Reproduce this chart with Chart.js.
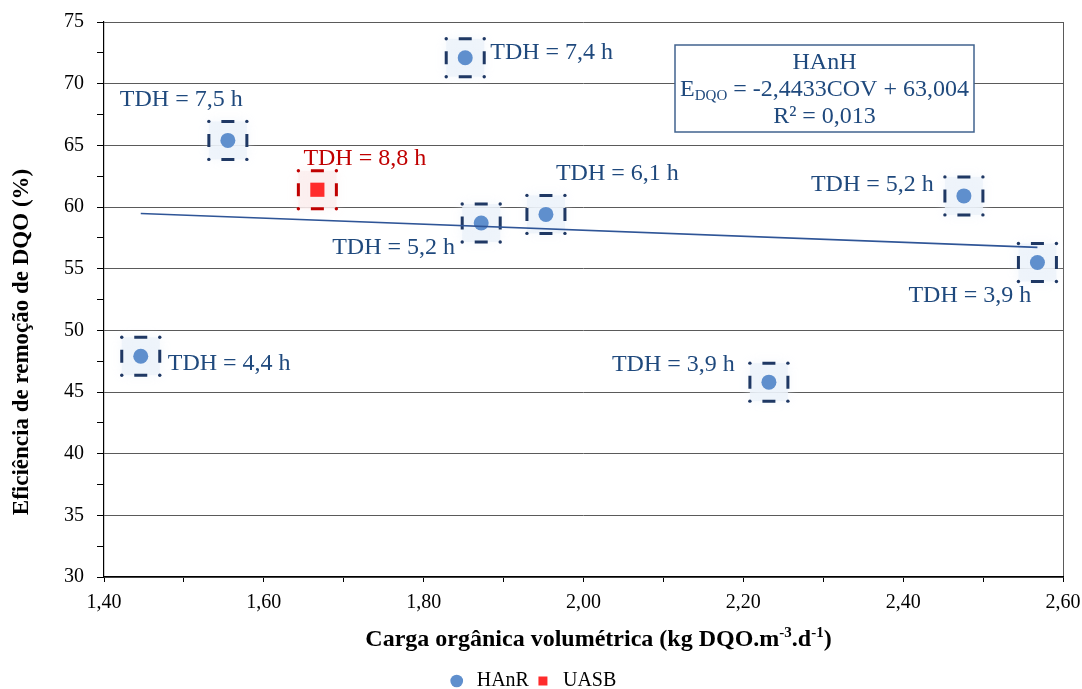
<!DOCTYPE html>
<html>
<head>
<meta charset="utf-8">
<script src="https://cdn.jsdelivr.net/npm/chart.js@4.4.1/dist/chart.umd.min.js"></script>
<style>
  html, body { margin: 0; padding: 0; background: #fff; }
</style>
</head>
<body>
<canvas id="chart" width="1082" height="689"></canvas>
<script>
// COV (kg DQO.m-3.d-1) vs. DQO removal efficiency (%)
const hanrCov = [1.446, 1.555, 1.852, 1.872, 1.953, 2.232, 2.476, 2.568];
const hanrEff = [47.9, 65.4, 72.1, 58.7, 59.4, 45.8, 60.9, 55.5];
const hanrTdh = ['4,4', '7,5', '7,4', '5,2', '6,1', '3,9', '5,2', '3,9'];

const uasbCov = [1.667];
const uasbEff = [61.4];
const uasbTdh = ['8,8'];

// HAnH linear fit: E = slope * COV + intercept
const fitSlope = -2.4433;
const fitIntercept = 63.004;
const fitR2 = '0,013';

const xMin = 1.4, xMax = 2.6;
const yMin = 30, yMax = 75;

// text placement around each point (left edge, vertical middle)
const hanrLabelOffsets = [[27, 7], [-108, -41], [25, -5], [-149, 25], [10, -41], [-157, -17], [-153, -11], [-129, 33]];
const uasbLabelOffsets = [[-14, -31]];

const SERIF = '"Liberation Serif", "Times New Roman", serif';
const NAVY = '#1f497d';

const toXY = (xs, ys) => xs.map((x, i) => ({ x: x, y: ys[i] }));
const fitX = [Math.min(...hanrCov), Math.max(...hanrCov)];
const fitLine = fitX.map(x => ({ x: x, y: fitSlope * x + fitIntercept }));

// dash-dot square around a point: one dash centred on each side, dots at the corners
function drawFrame(ctx, x, y, color, fill) {
    const h = 19;     // half side
    const d = 6.5;    // half dash length
    ctx.save();
    ctx.fillStyle = fill;
    ctx.shadowColor = fill;
    ctx.shadowBlur = 10;
    ctx.fillRect(x - h, y - h, 2 * h, 2 * h);
    ctx.restore();

    ctx.save();
    ctx.strokeStyle = color;
    ctx.fillStyle = color;
    ctx.lineWidth = 3;
    ctx.beginPath();
    ctx.moveTo(x - d, y - h); ctx.lineTo(x + d, y - h);
    ctx.moveTo(x - d, y + h); ctx.lineTo(x + d, y + h);
    ctx.moveTo(x - h, y - d); ctx.lineTo(x - h, y + d);
    ctx.moveTo(x + h, y - d); ctx.lineTo(x + h, y + d);
    ctx.stroke();
    [[-h, -h], [h, -h], [-h, h], [h, h]].forEach(c => {
        ctx.beginPath();
        ctx.arc(x + c[0], y + c[1], 1.7, 0, Math.PI * 2);
        ctx.fill();
    });
    ctx.restore();
}

const decorations = {
    id: 'decorations',
    beforeDatasetsDraw(chart) {
        const ctx = chart.ctx;
        chart.data.datasets.forEach((ds, i) => {
            if (!ds.frameColor) return;
            chart.getDatasetMeta(i).data.forEach(pt => {
                drawFrame(ctx, pt.x, pt.y, ds.frameColor, ds.frameFill);
            });
        });
    },
    afterDatasetsDraw(chart) {
        const ctx = chart.ctx;
        ctx.save();
        ctx.font = '24px ' + SERIF;
        ctx.textAlign = 'left';
        ctx.textBaseline = 'middle';
        chart.data.datasets.forEach((ds, i) => {
            if (!ds.tdh) return;
            ctx.fillStyle = ds.textColor;
            chart.getDatasetMeta(i).data.forEach((pt, j) => {
                const off = ds.labelOffsets[j];
                ctx.fillText('TDH = ' + ds.tdh[j] + ' h', pt.x + off[0], pt.y + off[1]);
            });
        });
        ctx.restore();
    },
    afterDraw(chart) {
        const ctx = chart.ctx;
        const ca = chart.chartArea;

        // equation box
        const bx = ca.left + 571, by = ca.top + 23, bw = 299, bh = 87;
        ctx.save();
        ctx.fillStyle = '#fff';
        ctx.fillRect(bx, by, bw, bh);
        ctx.strokeStyle = '#41638f';
        ctx.lineWidth = 1.5;
        ctx.strokeRect(bx, by, bw, bh);
        ctx.fillStyle = NAVY;
        ctx.textBaseline = 'middle';
        ctx.textAlign = 'center';
        const cx = bx + bw / 2;
        const main = '24px ' + SERIF, sub = '15px ' + SERIF;
        ctx.font = main;
        ctx.fillText('HAnH', cx, by + 18);
        ctx.fillText('R\u00b2 = ' + fitR2, cx, by + 72);
        const eqRest = ' = ' + fitSlope.toString().replace('.', ',') + 'COV + ' + fitIntercept.toFixed(3).replace('.', ',');
        const wE = ctx.measureText('E').width;
        const wRest = ctx.measureText(eqRest).width;
        ctx.font = sub;
        const wSub = ctx.measureText('DQO').width;
        let tx = cx - (wE + wSub + wRest) / 2;
        const ty = by + 45;
        ctx.textAlign = 'left';
        ctx.font = main;
        ctx.fillText('E', tx, ty);
        tx += wE;
        ctx.font = sub;
        ctx.fillText('DQO', tx, ty + 6);
        tx += wSub;
        ctx.font = main;
        ctx.fillText(eqRest, tx, ty);
        ctx.restore();

        // y axis title
        ctx.save();
        ctx.fillStyle = '#000';
        ctx.font = 'bold 23px ' + SERIF;
        ctx.textAlign = 'center';
        ctx.textBaseline = 'middle';
        ctx.translate(22, ca.top + 320);
        ctx.rotate(-Math.PI / 2);
        ctx.fillText('Eficiência de remoção de DQO (%)', 0, 0);
        ctx.restore();

        // x axis title with superscripts
        ctx.save();
        ctx.fillStyle = '#000';
        ctx.textBaseline = 'middle';
        ctx.textAlign = 'left';
        const big = 'bold 24px ' + SERIF, small = 'bold 15px ' + SERIF;
        const parts = [
            ['Carga orgânica volumétrica (kg DQO.m', big, 0],
            ['-3', small, -7],
            ['.d', big, 0],
            ['-1', small, -7],
            [')', big, 0]
        ];
        let total = 0;
        parts.forEach(p => { ctx.font = p[1]; total += ctx.measureText(p[0]).width; });
        let px = (ca.left + ca.right) / 2 + 15 - total / 2;
        const py = ca.bottom + 63;
        parts.forEach(p => {
            ctx.font = p[1];
            ctx.fillText(p[0], px, py + p[2]);
            px += ctx.measureText(p[0]).width;
        });
        ctx.restore();
    }
};

new Chart(document.getElementById('chart'), {
    type: 'scatter',
    data: {
        datasets: [
            {
                label: 'HAnR',
                data: toXY(hanrCov, hanrEff),
                backgroundColor: '#5f8fcd',
                borderWidth: 0,
                pointRadius: 7.5,
                pointStyle: 'circle',
                frameColor: '#1f3864',
                frameFill: 'rgba(236, 242, 250, 0.8)',
                tdh: hanrTdh,
                labelOffsets: hanrLabelOffsets,
                textColor: NAVY,
                order: 1
            },
            {
                label: 'UASB',
                data: toXY(uasbCov, uasbEff),
                backgroundColor: '#ff2b2b',
                borderWidth: 0,
                pointRadius: 10,
                pointStyle: 'rect',
                frameColor: '#c00000',
                frameFill: 'rgba(251, 238, 238, 0.8)',
                tdh: uasbTdh,
                labelOffsets: uasbLabelOffsets,
                textColor: '#c00000',
                order: 1
            },
            {
                label: 'fit',
                type: 'line',
                data: fitLine,
                borderColor: '#2f5597',
                borderWidth: 1.6,
                pointRadius: 0,
                fill: false,
                order: 0
            }
        ]
    },
    options: {
        responsive: false,
        animation: false,
        devicePixelRatio: 1,
        layout: { padding: { top: 22, right: 19, left: 0, bottom: -12 } },
        plugins: {
            legend: {
                position: 'bottom',
                labels: {
                    filter: item => item.text !== 'fit',
                    usePointStyle: true,
                    boxHeight: 9,
                    padding: 4,
                    color: '#000',
                    font: { family: SERIF, size: 20 }
                }
            },
            tooltip: { enabled: false }
        },
        scales: {
            x: {
                type: 'linear',
                min: xMin,
                max: xMax,
                afterFit: s => { s.height = 90; s.paddingRight = 0; },
                border: { color: '#000', width: 1.2 },
                grid: {
                    drawOnChartArea: true,
                    color: c => Math.abs(c.tick.value - xMax) < 1e-6 ? '#5a5a5a' : 'rgba(0,0,0,0)',
                    tickColor: '#000',
                    tickLength: 5
                },
                ticks: {
                    stepSize: 0.1,
                    padding: 9,
                    color: '#000',
                    font: { family: SERIF, size: 20 },
                    callback: v => Math.round(v * 10) % 2 === 0 ? v.toFixed(2).replace('.', ',') : ''
                }
            },
            y: {
                min: yMin,
                max: yMax,
                afterFit: s => { s.width = 104; s.paddingTop = 0; },
                border: { color: '#000', width: 1.2 },
                grid: {
                    color: c => c.tick.value % 5 === 0 ? '#5a5a5a' : 'rgba(0,0,0,0)',
                    tickColor: '#000',
                    tickLength: 7
                },
                ticks: {
                    stepSize: 2.5,
                    padding: 13,
                    color: '#000',
                    font: { family: SERIF, size: 20 },
                    callback: v => v % 5 === 0 ? v : ''
                }
            }
        }
    },
    plugins: [decorations]
});
</script>
</body>
</html>
